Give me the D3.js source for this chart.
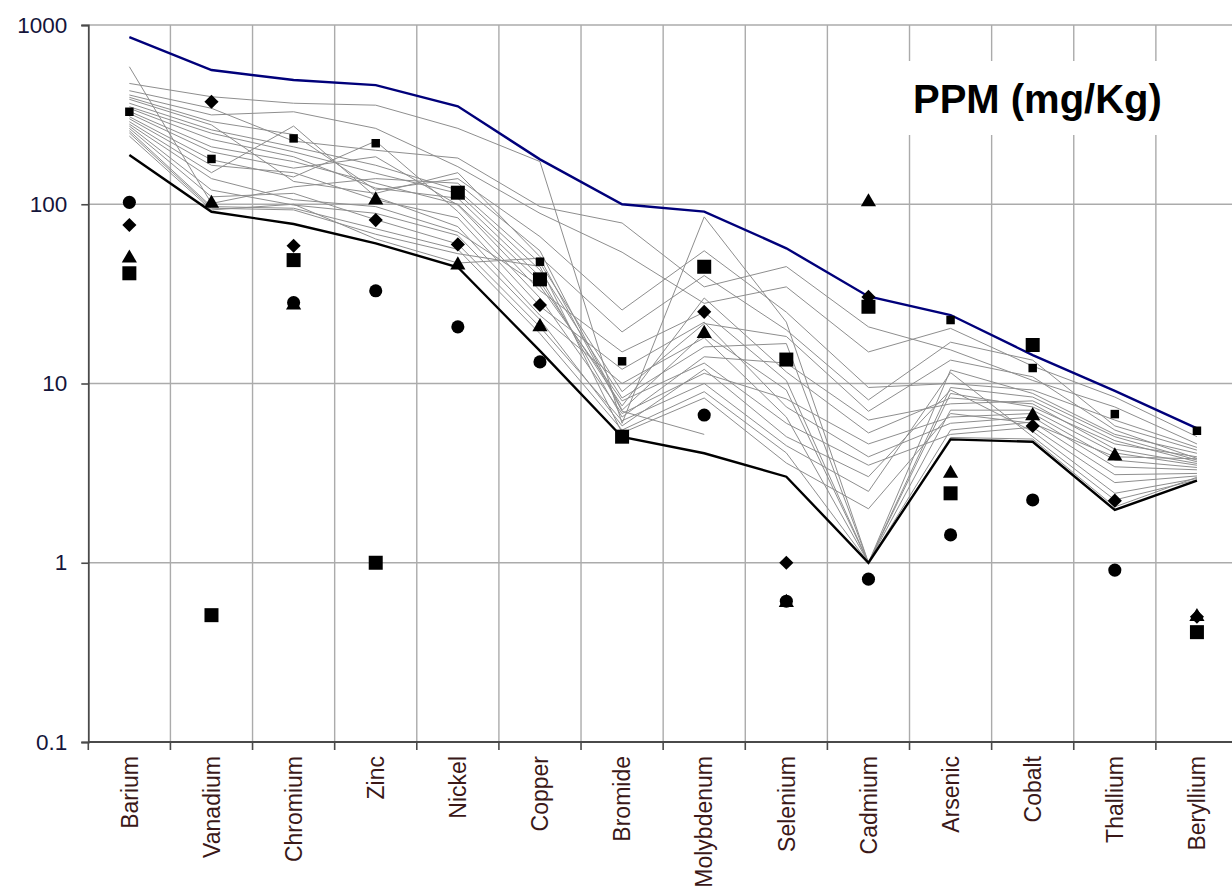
<!DOCTYPE html>
<html>
<head>
<meta charset="utf-8">
<script src="https://cdn.jsdelivr.net/npm/d3@7"></script>
<style>
  html, body { margin: 0; padding: 0; background: #fff; }
  svg { display: block; }
</style>
</head>
<body>
<svg id="chart" width="1232" height="889"></svg>
<script>
// Element list along the x axis
const categories = ["Barium", "Vanadium", "Chromium", "Zinc", "Nickel", "Copper", "Bromide",
  "Molybdenum", "Selenium", "Cadmium", "Arsenic", "Cobalt", "Thallium", "Beryllium"];

// Log axis ticks
const yTicks = [0.1, 1, 10, 100, 1000];
const yTickLabels = ["0.1", "1", "10", "100", "1000"];

// Envelope of the reference samples (ppm)
const upperLimit = [857, 561, 493, 462, 352, 178, 100, 91, 56.8, 30.6, 24.1, 14.4, 9.1, 5.62];
const lowerLimit = [188, 90.8, 77.6, 60.5, 44.5, 15.2, 5.03, 4.08, 3.02, 1.0, 4.88, 4.73, 1.97, 2.87];

// Individual reference samples (ppm)
const s01 = [585, 101, 125, 139, 131, 55, 7.1, 19, 9.2, 1.0, 8.8, 7.4, 4.6, 3.9];
const s02 = [472, 398, 366, 357, 265, 173, 6.0, 85, 22, 1.0, 11.9, 8.8, 5.2, 4.08];
const s03 = [430, 343, 225, 200, 181, 97, 78.6, 34.6, 44.9, 20.7, 15.4, 10.4, 7.4, 4.6];
const s04 = [407, 315, 328, 265, 162, 89, 54, 28, 34.6, 15, 20.3, 12.5, 8.4, 5.05];
const s05 = [395, 289, 245, 120, 139, 66, 25.7, 55, 25, 9.5, 10, 9.2, 6.25, 4.4];
const s06 = [385, 277, 134, 115, 150, 51, 19.4, 40, 19.9, 8.1, 17, 13.5, 5.8, 4.25];
const s07 = [366, 260, 209, 165, 120, 47, 9.0, 21.6, 18.3, 7.0, 13.5, 10.9, 5.5, 3.82];
const s08 = [350, 249, 196, 149, 115, 43, 8.3, 16, 16.7, 1.0, 9.5, 8.4, 5.05, 3.74];
const s09 = [343, 230, 184, 123, 108, 39.5, 6.5, 14.1, 13, 6.25, 7.7, 8.0, 4.8, 3.66];
const s10 = [330, 209, 173, 131, 100, 37, 7.5, 30, 11.6, 5.3, 8.3, 7.7, 4.3, 3.58];
const s11 = [321, 196, 159, 184, 99, 33, 15, 25, 10.4, 1.0, 7.1, 7.1, 4.1, 3.5];
const s12 = [308, 177, 142, 225, 91, 30, 6.8, 11.4, 8.2, 4.6, 6.5, 6.8, 3.74, 3.4];
const s13 = [300, 165, 150, 106, 84, 27, 12, 22, 7.4, 3.9, 6.0, 6.5, 3.43, 3.3];
const s14 = [289, 150, 273, 110, 75, 24, 10, 18, 6.5, 1.0, 5.5, 6.1, 3.1, 3.15];
const s15 = [280, 139, 106, 97, 70, 35, 8.0, 13, 6.0, 3.5, 5.2, 5.7, 2.8, 3.05];
const s16 = [273, 120, 99, 89, 67, 22.7, 5.8, 12, 5.05, 3.02, 9.2, 5.4, 2.44, 2.95];
const s17 = [265, 110, 115, 82, 60, 20.7, 6.2, 10, 4.5, 2.5, 11.5, 5.05, 2.24, 2.9];
const s18 = [257, 97, 95, 73, 56, 19, 5.5, 9, 4.1, 1.0, 5.0, 4.9, 2.05, 3.0];
const s19 = [250, 95, 93, 68, 53, 45, 5.3, 8.3, 3.6, 2.0, 6.8, 6.0, 3.9, 3.8];
const s20 = [240, 93, 100, 64, 47, 50, 7.0, 5.2, null, null, null, null, null, null];
const samples = [s01, s02, s03, s04, s05, s06, s07, s08, s09, s10,
  s11, s12, s13, s14, s15, s16, s17, s18, s19, s20];

// Test sites plotted as markers (ppm); null = not measured
const circleSite   = [102.5, null, 28.3, 32.9, 20.7, 13.2, null, 6.67, 0.61, 0.81, 1.43, 2.24, 0.91, null];
const diamondSite  = [76.6, 373, 58.7, 81.6, 59.7, 27.4, null, 25.1, 1.0, 30.4, null, 5.8, 2.22, 0.5];
const triangleSite = [50, 101, 27.4, 105.5, 45.8, 20.7, null, 19.0, 0.6, 103, 3.15, 6.6, 3.94, 0.5];
const squareSite   = [41.2, 0.51, 48.8, 1.0, 116, 38.1, 5.05, 44.8, 13.6, 26.8, 2.44, 16.4, null, 0.41];
const smallSquareSite = [328, 179, 233, 219, null, 47.8, 13.3, null, null, null, 22.6, 12.2, 6.75, 5.45];

const svg = d3.select("#chart");
const margin = { left: 88.3, top: 25, bottom: 742, right: 1238 };

const x = d3.scaleBand().domain(categories).range([margin.left, margin.right]).padding(0);
const y = d3.scaleLog().domain([0.1, 1000]).range([margin.bottom, margin.top]);
const cx = c => x(c) + x.bandwidth() / 2;

// Grid
const grid = svg.append("g");
categories.forEach((c, i) => {
  if (i === 0) return;
  grid.append("line")
    .attr("x1", x(c)).attr("x2", x(c))
    .attr("y1", margin.top).attr("y2", margin.bottom)
    .attr("stroke", "#ababab").attr("stroke-width", 1.4);
});
yTicks.slice(1).forEach(t => {
  grid.append("line")
    .attr("x1", margin.left).attr("x2", 1232)
    .attr("y1", y(t)).attr("y2", y(t))
    .attr("stroke", "#ababab").attr("stroke-width", 1.4);
});

// Sample lines
const line = d3.line()
  .defined(d => d.v != null)
  .x(d => cx(d.c))
  .y(d => y(d.v));
const toPts = arr => arr.map((v, i) => ({ c: categories[i], v }));

svg.append("g").selectAll("path").data(samples).join("path")
  .attr("d", d => line(toPts(d)))
  .attr("fill", "none").attr("stroke", "#8e8e8e").attr("stroke-width", 1);

svg.append("path").attr("d", line(toPts(lowerLimit)))
  .attr("fill", "none").attr("stroke", "#000").attr("stroke-width", 2.4);
svg.append("path").attr("d", line(toPts(upperLimit)))
  .attr("fill", "none").attr("stroke", "#00007a").attr("stroke-width", 2.4);

// Marker series
function markers(data, type, size, rotate) {
  const sym = d3.symbol().type(type).size(size);
  svg.append("g").selectAll("path")
    .data(toPts(data).filter(d => d.v != null))
    .join("path")
    .attr("d", sym)
    .attr("transform", d => `translate(${cx(d.c)},${y(d.v)})` + (rotate ? " rotate(45)" : ""))
    .attr("fill", "#000");
}
markers(squareSite, d3.symbolSquare, 196, false);
markers(circleSite, d3.symbolCircle, 135, false);
markers(triangleSite, d3.symbolTriangle, 100, false);
markers(diamondSite, d3.symbolSquare, 100, true);
markers(smallSquareSite, d3.symbolSquare, 72, false);

// Axes
const yAxis = d3.axisLeft(y)
  .tickValues(yTicks)
  .tickFormat((d, i) => yTickLabels[i])
  .tickSize(7).tickPadding(14);
const gy = svg.append("g").attr("transform", `translate(${margin.left},0)`).call(yAxis);
gy.select(".domain").attr("stroke", "#4a4a4a").attr("stroke-width", 1.8);
gy.selectAll(".tick line").attr("stroke", "#4a4a4a").attr("stroke-width", 1.6);
gy.selectAll(".tick text")
  .attr("font-family", "Liberation Sans, Arial, sans-serif")
  .attr("font-size", 22.5).attr("fill", "#14143a");

const xAxis = d3.axisBottom(x).tickSize(0).tickPadding(0);
const gx = svg.append("g").attr("transform", `translate(0,${margin.bottom})`).call(xAxis);
gx.select(".domain").remove();
gx.selectAll(".tick text")
  .attr("font-family", "Liberation Sans, Arial, sans-serif")
  .attr("font-size", 23).attr("fill", "#3a1818")
  .attr("text-anchor", "end")
  .attr("transform", "translate(0,14) rotate(-90)")
  .attr("x", 0).attr("y", 0).attr("dy", "0.36em");

svg.append("line")
  .attr("x1", margin.left).attr("x2", 1232)
  .attr("y1", margin.bottom).attr("y2", margin.bottom)
  .attr("stroke", "#4a4a4a").attr("stroke-width", 1.8);
const boundaries = categories.map(c => x(c));
svg.append("g").selectAll("line").data(boundaries).join("line")
  .attr("x1", d => d).attr("x2", d => d)
  .attr("y1", margin.bottom).attr("y2", margin.bottom + 8)
  .attr("stroke", "#4a4a4a").attr("stroke-width", 1.6);

// Units title
svg.append("rect").attr("x", 898).attr("y", 61).attr("width", 282).attr("height", 74).attr("fill", "#fff");
svg.append("text")
  .attr("x", 913).attr("y", 113)
  .attr("font-family", "Liberation Sans, Arial, sans-serif")
  .attr("font-weight", "bold").attr("font-size", 40)
  .attr("fill", "#000")
  .text("PPM (mg/Kg)");
</script>
</body>
</html>
